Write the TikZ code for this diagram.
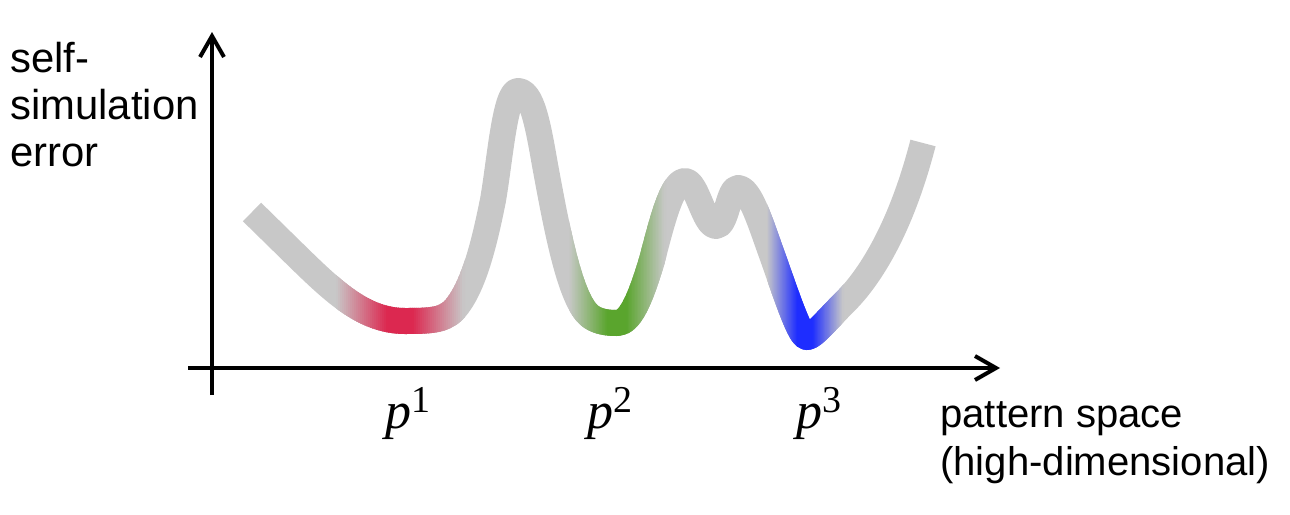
\documentclass[tikz,border=0pt]{standalone}
\usepackage{fontspec}
\setmainfont{Liberation Sans}
\newfontfamily\tnr{Liberation Serif}
\usetikzlibrary{arrows.meta}
\definecolor{cgray}{RGB}{200,200,200}
\definecolor{cred}{RGB}{220,40,80}
\definecolor{cgreen}{RGB}{90,165,45}
\definecolor{cblue}{RGB}{30,45,255}
\def\curvepath{(252,212) -- (300,259) .. controls (335,293) and (365,321) .. (405,321) .. controls (435,321) and (447,320) .. (458,305) .. controls (475,282) and (485,240) .. (493,200) .. controls (500,160) and (505,91) .. (518,91) .. controls (532,91) and (538,125) .. (545,165) .. controls (557,230) and (570,300) .. (590,316) .. controls (598,322) and (608,323) .. (617,323) .. controls (630,323) and (640,300) .. (652,260) .. controls (662,222) and (672,181) .. (685,181) .. controls (697,181) and (704,226) .. (716,226) .. controls (727,226) and (728,188) .. (738,188) .. controls (750,188) and (760,222) .. (772,255) .. controls (788,300) and (800,337) .. (807,337) .. controls (813,337) and (825,322) .. (845,302) .. controls (868,279) and (900,232) .. (923,143)}
\newcommand\plab[1]{{\tnr\itshape p}\raisebox{9pt}{\tnr\fontsize{21.6}{21.6}\selectfont #1}}
\begin{document}
\begin{tikzpicture}[x=0.02cm,y=-0.02cm,
  curve/.style={line width=0.52cm, line cap=butt, line join=round},
  axis/.style={line width=0.08cm, -{Straight Barb[length=0.42cm,width=0.48cm]}},
  lab/.style={anchor=north west, align=left, inner sep=0pt},
  plabel/.style={anchor=base west, inner sep=0pt, font=\fontsize{29.6}{30}\selectfont}]
\useasboundingbox (0,0) rectangle (1290,514);
% axes
\coordinate (yb) at (212,395);
\coordinate (yt) at (212,32);
\coordinate (xl) at (188,368);
\coordinate (xr) at (1000,368);
\draw[axis] (yb) -- (yt);
\draw[axis] (xl) -- (xr);
% curve
\draw[curve, draw=cgray] \curvepath;
\foreach \cx/\hw/\col in {400/64/cred, 617/48/cgreen, 805/38/cblue}{
  \foreach \i in {-32,...,31}{
    \pgfmathsetmacro\xa{\cx+\i*\hw/32}
    \pgfmathsetmacro\xb{\xa+\hw/32+1.2}
    \pgfmathsetmacro\pct{max(0,min(100,125*(1-abs(\xa+\hw/64-\cx)/\hw)))}
    \begin{scope}
      \clip (\xa,0) rectangle (\xb,514);
      \draw[curve, draw=\col!\pct!cgray] \curvepath;
    \end{scope}
  }
}
% labels
\node[lab, font=\fontsize{23.8}{26.7}\selectfont] (ylab) at (10,42) {self-\\simulation\\error};
\node[lab, font=\fontsize{22.8}{27.5}\selectfont] (xlab) at (940,401) {pattern space\\(high-dimensional)};
\node[plabel] (p1) at (385,428) {\plab{1}};
\node[plabel] (p2) at (587,428) {\plab{2}};
\node[plabel] (p3) at (796,428) {\plab{3}};
\end{tikzpicture}
\end{document}
